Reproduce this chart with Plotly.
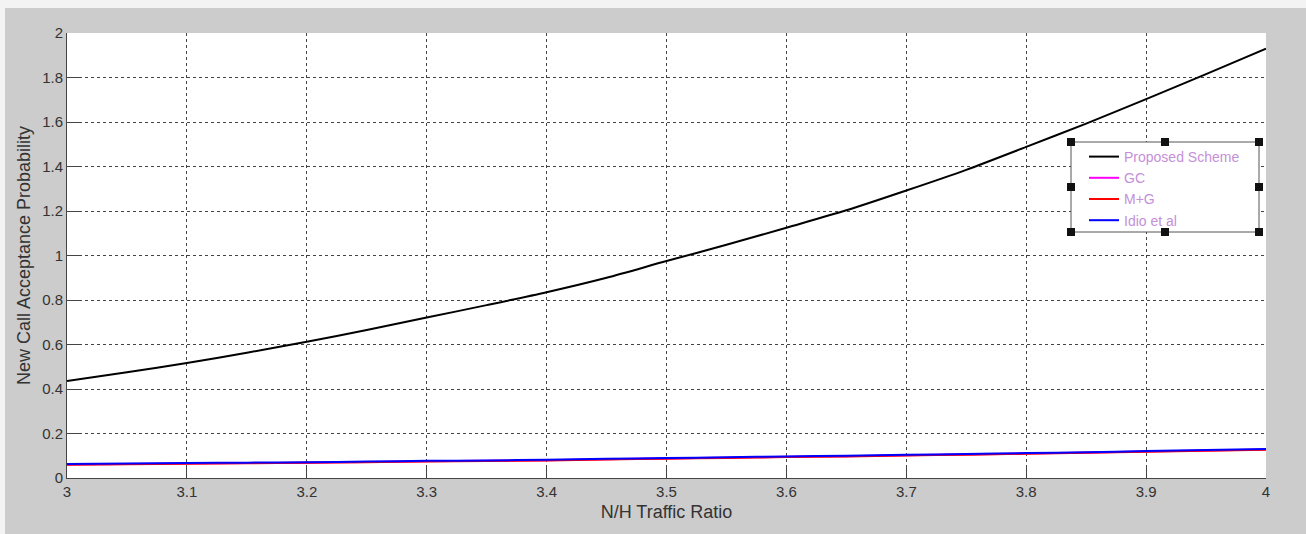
import plotly.graph_objects as go

# ---- data ----
x_ratio = [3.0, 3.05, 3.1, 3.15, 3.2, 3.25, 3.3, 3.35, 3.4, 3.45, 3.5,
           3.55, 3.6, 3.65, 3.7, 3.75, 3.8, 3.85, 3.9, 3.95, 4.0]
proposed = [0.436, 0.475, 0.517, 0.563, 0.612, 0.665, 0.721, 0.777, 0.835, 0.900, 0.975,
            1.048, 1.125, 1.203, 1.292, 1.385, 1.488, 1.593, 1.703, 1.815, 1.930]
gc = [0.061, 0.063, 0.065, 0.067, 0.069, 0.072, 0.075, 0.077, 0.080, 0.084, 0.088,
      0.091, 0.095, 0.098, 0.102, 0.106, 0.110, 0.114, 0.119, 0.124, 0.128]
mg = [0.060, 0.062, 0.064, 0.066, 0.068, 0.071, 0.074, 0.076, 0.079, 0.083, 0.087,
      0.090, 0.094, 0.097, 0.101, 0.105, 0.109, 0.113, 0.118, 0.123, 0.127]
idio = [0.063, 0.065, 0.067, 0.069, 0.071, 0.074, 0.077, 0.079, 0.082, 0.086, 0.090,
        0.093, 0.097, 0.100, 0.104, 0.108, 0.112, 0.116, 0.121, 0.126, 0.130]
series_names = ["Proposed Scheme", "GC", "M+G", "Idio et al"]
x_ticks = [3.0, 3.1, 3.2, 3.3, 3.4, 3.5, 3.6, 3.7, 3.8, 3.9, 4.0]
x_tick_labels = ["3", "3.1", "3.2", "3.3", "3.4", "3.5", "3.6", "3.7", "3.8", "3.9", "4"]
y_ticks = [0, 0.2, 0.4, 0.6, 0.8, 1.0, 1.2, 1.4, 1.6, 1.8, 2.0]
y_tick_labels = ["0", "0.2", "0.4", "0.6", "0.8", "1", "1.2", "1.4", "1.6", "1.8", "2"]

colors = ["#000000", "#ff00ff", "#ff0000", "#0000ff"]

fig = go.Figure()
for name, vals, col in zip(series_names, [proposed, gc, mg, idio], colors):
    fig.add_trace(go.Scatter(x=x_ratio, y=vals, mode="lines", name=name,
                             line=dict(color=col, width=2, shape="spline", smoothing=0.8)))

# page geometry: body margin set to 8px top / 5px left via post_script
OFF_X, OFF_Y = 5, 8
W, H = 1306 - OFF_X, 534 - OFF_Y
X0, X1, Y0, Y1 = 67, 1266, 33, 478  # plot area in screen pixels
L, R, T, B = X0 - OFF_X, 1306 - X1, Y0 - OFF_Y, 534 - Y1


def px(xp):
    return (xp - X0) / (X1 - X0)


def py(yp):
    return (Y1 - yp) / (Y1 - Y0)


shapes = [
    # legend box (white, above the curves)
    dict(type="rect", xref="paper", yref="paper", x0=px(1071), x1=px(1259), y0=py(232), y1=py(142),
         fillcolor="#ffffff", line=dict(color="#555555", width=1), layer="above"),
]
# selection handles
for hx in [1071, 1165, 1259]:
    for hy in [142, 187, 232]:
        if hx == 1165 and hy == 187:
            continue
        shapes.append(dict(type="rect", xref="paper", yref="paper",
                           x0=px(hx - 4), x1=px(hx + 4), y0=py(hy + 4), y1=py(hy - 4),
                           fillcolor="#111111", line=dict(width=0), layer="above"))

axis_common = dict(showgrid=True, gridcolor="#444444", griddash="dot", gridwidth=1,
                   showline=True, linecolor="#444444", linewidth=1, mirror=False,
                   ticks="inside", ticklen=12, tickcolor="#444444", zeroline=False,
                   tickfont=dict(size=15, color="#333333"))

fig.update_layout(
    width=W, height=H,
    margin=dict(l=L, r=R, t=T, b=B),
    paper_bgcolor="#cccccc",
    plot_bgcolor="#ffffff",
    font=dict(family="Liberation Sans, Arial, sans-serif", color="#333333", size=15),
    showlegend=True,
    legend=dict(x=px(1084), y=py(141), xanchor="left", yanchor="top",
                bgcolor="rgba(0,0,0,0)", borderwidth=0,
                font=dict(size=14, color="#c490d8", family="Liberation Sans, Arial, sans-serif"),
                tracegroupgap=0),
    xaxis=dict(range=[3, 4], tickvals=x_ticks, ticktext=x_tick_labels,
               title=dict(text="N/H Traffic Ratio", font=dict(size=18, color="#333333"), standoff=6),
               **axis_common),
    yaxis=dict(range=[0, 2], tickvals=y_ticks, ticktext=y_tick_labels,
               title=dict(text="New Call Acceptance Probability", font=dict(size=18, color="#333333"), standoff=6),
               **axis_common),
    shapes=shapes,
)

fig.write_html(
    "out.html",
    post_script="document.body.style.margin='8px 0 0 5px';document.body.style.overflow='hidden';document.body.style.background='#f3f3f3';",
)
